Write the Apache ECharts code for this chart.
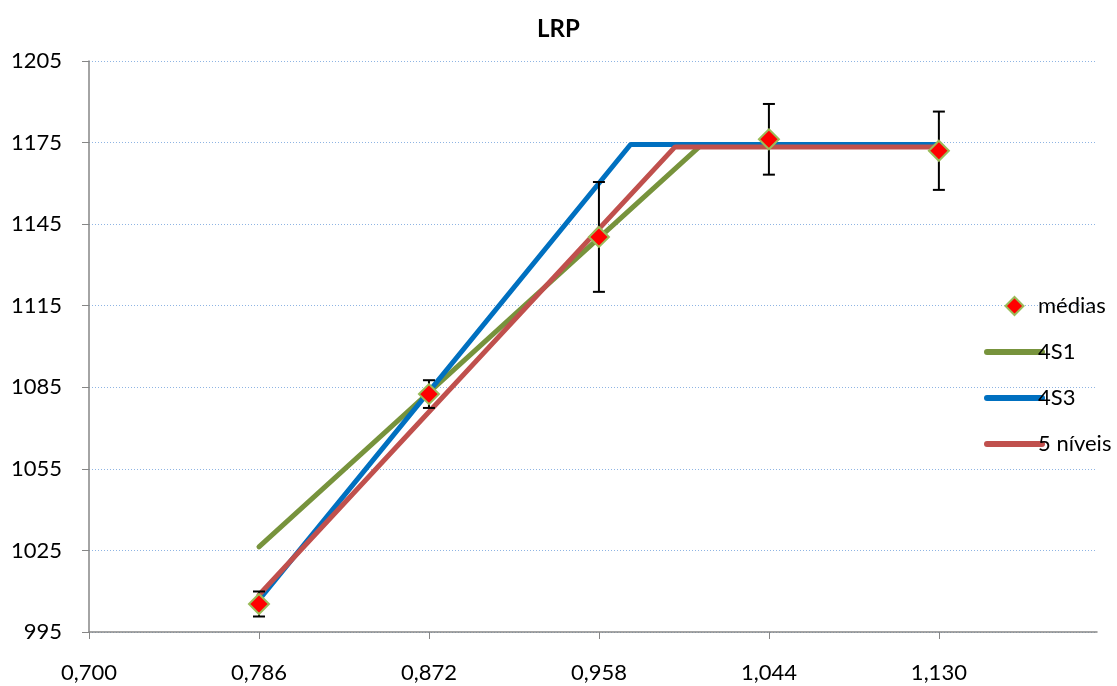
<!DOCTYPE html>
<html>
<head>
<meta charset="utf-8">
<script src="https://cdn.jsdelivr.net/npm/echarts@6/dist/echarts.min.js"></script>
<style>
  html, body { margin: 0; padding: 0; background: #fff; }
  #chart { width: 1117px; height: 686px; }
</style>
</head>
<body>
<div id="chart"></div>
<script>
// x positions of the measured means
const xMeans = [0.786, 0.872, 0.958, 1.044, 1.130];
const means = [1005.3, 1082.5, 1140.3, 1176.2, 1172.0];
const errs = [4.6, 5.1, 20.2, 13.0, 14.4];

// fitted linear-plateau models
const x4S1 = [0.786, 1.009, 1.130];
const y4S1 = [1026.3, 1173.6, 1173.6];
const x4S3 = [0.786, 0.974, 1.130];
const y4S3 = [1006.8, 1174.3, 1174.3];
const x5niv = [0.786, 0.9965, 1.130];
const y5niv = [1008.6, 1173.4, 1173.4];

const xTicks = [0.700, 0.786, 0.872, 0.958, 1.044, 1.130];

const pairs = (xs, ys) => xs.map((x, i) => [x, ys[i]]);
const fontFam = 'Lato, "Open Sans", sans-serif';

// legend icons: diamond centred in the 55x18 box, lines without a symbol
const diamondIcon = 'path://M0,9 M18.5,9 L27.5,0 L36.5,9 L27.5,18 Z M55,9';
const lineItem = (name, color) => ({
    name: name,
    itemStyle: { opacity: 0 },
    lineStyle: { color: color, width: 6, cap: 'round' }
});

const chart = echarts.init(document.getElementById('chart'));

const option = {
    animation: false,
    title: {
        text: 'LRP',
        left: 'center',
        top: 12,
        textStyle: { fontFamily: fontFam, fontSize: 24, fontWeight: 'bold', color: '#000' }
    },
    grid: { left: 89, right: 20, top: 61, bottom: 54 },
    legend: {
        orient: 'vertical',
        left: 979,
        top: 290,
        itemWidth: 55,
        itemHeight: 18,
        itemGap: 24,
        textStyle: { fontFamily: fontFam, fontSize: 22, lineHeight: 22, color: '#000', padding: [0, 0, 0, -9] },
        data: [
            { name: 'médias', icon: diamondIcon, itemStyle: { opacity: 1 } },
            lineItem('4S1', '#77933C'),
            lineItem('4S3', '#0070C0'),
            lineItem('5 níveis', '#C0504D')
        ]
    },
    xAxis: {
        type: 'value',
        min: 0.700,
        max: 1.210,
        interval: 0.086,
        axisLine: { show: true, lineStyle: { color: '#868686', width: 1.5 } },
        axisTick: { show: true, length: 7, customValues: xTicks, lineStyle: { color: '#868686' } },
        axisLabel: {
            customValues: xTicks,
            margin: 30,
            fontFamily: fontFam,
            fontSize: 22,
            color: '#000',
            formatter: v => v.toFixed(3).replace('.', ',')
        },
        splitLine: { show: false }
    },
    yAxis: {
        type: 'value',
        min: 995,
        max: 1205,
        interval: 30,
        axisLine: { show: true, lineStyle: { color: '#868686', width: 1.5 } },
        axisTick: { show: true, length: 7, lineStyle: { color: '#868686' } },
        axisLabel: {
            margin: 27,
            fontFamily: fontFam,
            fontSize: 22,
            color: '#000',
            formatter: v => String(Math.round(v))
        },
        splitLine: { show: true, lineStyle: { color: '#8EB4E3', type: [1, 2], width: 1 } }
    },
    series: [
        {
            name: '4S1', type: 'line', symbol: 'none', z: 2,
            lineStyle: { color: '#77933C', width: 5, cap: 'round' },
            itemStyle: { color: '#77933C' },
            data: pairs(x4S1, y4S1)
        },
        {
            name: '4S3', type: 'line', symbol: 'none', z: 2,
            lineStyle: { color: '#0070C0', width: 5, cap: 'round' },
            itemStyle: { color: '#0070C0' },
            data: pairs(x4S3, y4S3)
        },
        {
            name: '5 níveis', type: 'line', symbol: 'none', z: 2,
            lineStyle: { color: '#C0504D', width: 5, cap: 'round' },
            itemStyle: { color: '#C0504D' },
            data: pairs(x5niv, y5niv)
        },
        {
            name: 'erro', type: 'custom', z: 3,
            data: xMeans.map((x, i) => [x, means[i] - errs[i], means[i] + errs[i]]),
            renderItem: (params, api) => {
                const lo = api.coord([api.value(0), api.value(1)]);
                const hi = api.coord([api.value(0), api.value(2)]);
                const w = 6;
                const st = { stroke: '#000', lineWidth: 2 };
                return {
                    type: 'group',
                    children: [
                        { type: 'line', shape: { x1: lo[0], y1: lo[1], x2: hi[0], y2: hi[1] }, style: st },
                        { type: 'line', shape: { x1: lo[0] - w, y1: lo[1], x2: lo[0] + w, y2: lo[1] }, style: st },
                        { type: 'line', shape: { x1: hi[0] - w, y1: hi[1], x2: hi[0] + w, y2: hi[1] }, style: st }
                    ]
                };
            }
        },
        {
            name: 'médias', type: 'scatter', symbol: 'diamond', symbolSize: 20, z: 4,
            itemStyle: { color: '#FF0000', borderColor: '#9BBB59', borderWidth: 2, opacity: 1 },
            data: pairs(xMeans, means)
        }
    ]
};

chart.setOption(option);
</script>
</body>
</html>
